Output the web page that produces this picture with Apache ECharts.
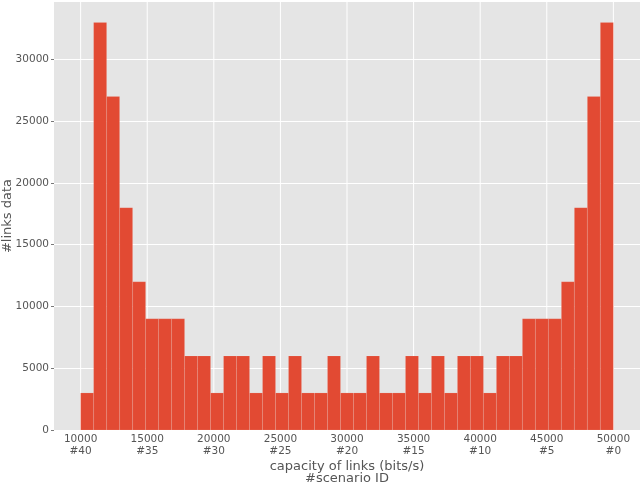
<!DOCTYPE html>
<html>
<head>
<meta charset="utf-8">
<script src="https://cdn.jsdelivr.net/npm/echarts@6/dist/echarts.min.js"></script>
<style>
  html, body { margin: 0; padding: 0; background: #fff; }
  #chart { width: 640px; height: 485px; }
</style>
</head>
<body>
<div id="chart"></div>
<script>
// Histogram: 41 equal bins between 10000 and 50000 bits/s
const BIN_MIN = 10000;
const BIN_MAX = 50000;
const counts = [
  3000, 33000, 27000, 18000, 12000, 9000, 9000, 9000, 6000, 6000,
  3000, 6000, 6000, 3000, 6000, 3000, 6000, 3000, 3000, 6000,
  3000, 3000, 6000, 3000, 3000, 6000, 3000, 6000, 3000, 6000,
  6000, 3000, 6000, 6000, 9000, 9000, 9000, 12000, 18000, 27000,
  33000
];
const xTicks = [10000, 15000, 20000, 25000, 30000, 35000, 40000, 45000, 50000];
const scenarioIds = ['#40', '#35', '#30', '#25', '#20', '#15', '#10', '#5', '#0'];
const yTicks = [0, 5000, 10000, 15000, 20000, 25000, 30000];

const FONT = 'DejaVu Sans';
const TEXT = '#555555';

const binWidth = (BIN_MAX - BIN_MIN) / counts.length;
const bins = counts.map((c, i) => [BIN_MIN + i * binWidth, BIN_MIN + (i + 1) * binWidth, c]);

const chart = echarts.init(document.getElementById('chart'), null, { renderer: 'canvas' });

chart.setOption({
  animation: false,
  backgroundColor: '#ffffff',
  grid: {
    left: 54, right: 0, top: 2, bottom: 55,
    outerBoundsMode: 'none',
    containLabel: false,
    show: true, backgroundColor: '#E5E5E5', borderWidth: 0
  },
  xAxis: {
    type: 'value',
    min: 8000,
    max: 52000,
    axisLine: { show: false },
    axisTick: { show: false },
    splitLine: { show: false },
    axisLabel: {
      customValues: xTicks,
      color: TEXT,
      fontFamily: FONT,
      fontSize: 10.5,
      lineHeight: 12.5,
      margin: 3,
      formatter: v => v + '\n' + scenarioIds[xTicks.indexOf(v)]
    },
    name: 'capacity of links (bits/s)\n#scenario ID',
    nameLocation: 'middle',
    nameGap: 30,
    nameMoveOverlap: false,
    nameTextStyle: { color: TEXT, fontFamily: FONT, fontSize: 13, lineHeight: 12.5 }
  },
  yAxis: {
    type: 'value',
    min: 0,
    max: 34650,
    interval: 5000,
    axisLine: { show: false },
    axisTick: { show: true, customValues: yTicks, length: 3, lineStyle: { color: TEXT, width: 0.8 } },
    splitLine: { show: true, lineStyle: { color: '#ffffff', width: 1 } },
    axisLabel: {
      customValues: yTicks,
      color: TEXT,
      fontFamily: FONT,
      fontSize: 10.5,
      margin: 5,
      formatter: v => String(v)
    },
    name: '#links data',
    nameLocation: 'middle',
    nameGap: 40,
    nameMoveOverlap: false,
    nameTextStyle: { color: TEXT, fontFamily: FONT, fontSize: 13 }
  },
  series: [
    {
      // vertical grid lines, below the bars
      type: 'custom',
      z: 1,
      silent: true,
      data: xTicks.map(v => [v]),
      encode: { x: 0 },
      renderItem: (params, api) => {
        const px = api.coord([api.value(0), 0])[0];
        const cs = params.coordSys;
        return {
          type: 'line',
          shape: { x1: px, y1: cs.y, x2: px, y2: cs.y + cs.height },
          style: { stroke: '#ffffff', lineWidth: 1 }
        };
      }
    },
    {
      type: 'custom',
      z: 2,
      data: bins,
      encode: { x: [0, 1], y: 2 },
      renderItem: (params, api) => {
        const p0 = api.coord([api.value(0), api.value(2)]);
        const p1 = api.coord([api.value(1), 0]);
        return {
          type: 'rect',
          shape: { x: p0[0], y: p0[1], width: p1[0] - p0[0], height: p1[1] - p0[1] },
          style: { fill: '#E24A33', stroke: 'rgba(255,255,255,0.18)', lineWidth: 0.6 }
        };
      }
    }
  ]
});
</script>
</body>
</html>
